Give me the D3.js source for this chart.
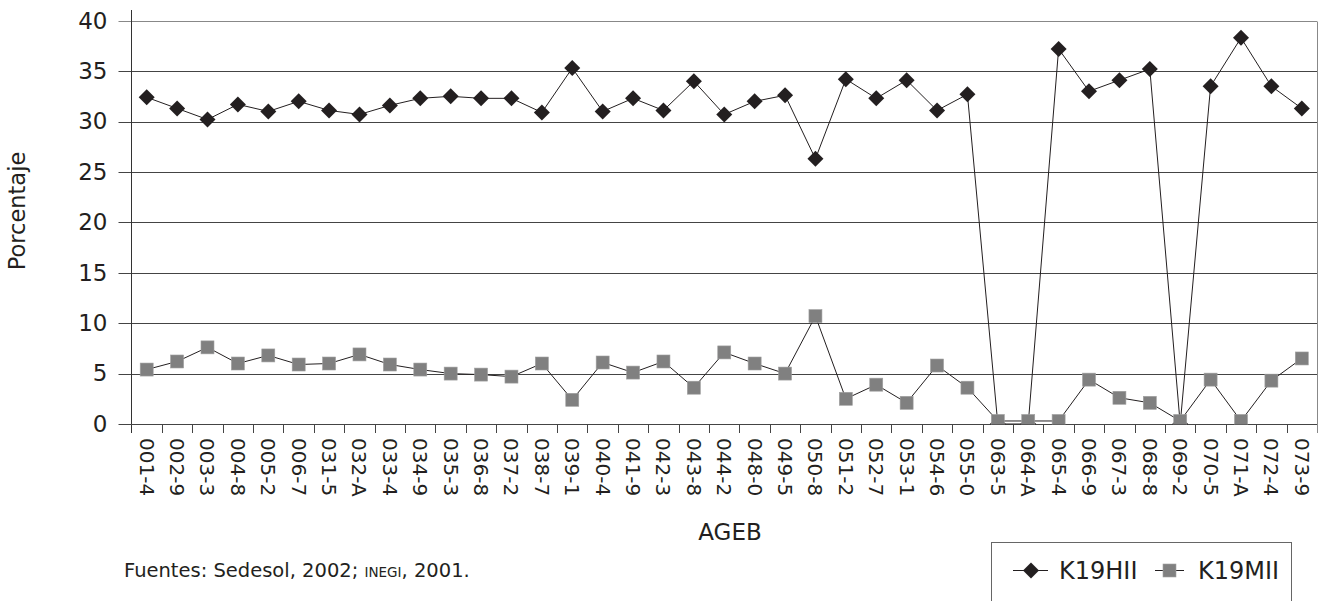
<!DOCTYPE html>
<html><head><meta charset="utf-8">
<script src="https://cdn.jsdelivr.net/npm/d3@7"></script>
<style>body{margin:0;background:#fff}svg{display:block;font-family:"DejaVu Sans",sans-serif}</style>
</head><body><svg id="c" width="1328" height="601"></svg>
<script>
const categories=["001-4","002-9","003-3","004-8","005-2","006-7","031-5","032-A","033-4","034-9","035-3","036-8","037-2","038-7","039-1","040-4","041-9","042-3","043-8","044-2","048-0","049-5","050-8","051-2","052-7","053-1","054-6","055-0","063-5","064-A","065-4","066-9","067-3","068-8","069-2","070-5","071-A","072-4","073-9"];
const k19hii=[32.4,31.3,30.2,31.7,31.0,32.0,31.1,30.7,31.6,32.3,32.5,32.3,32.3,30.9,35.3,31.0,32.3,31.1,34.0,30.7,32.0,32.6,26.3,34.2,32.3,34.1,31.1,32.7,0,0,37.2,33.0,34.1,35.2,0,33.5,38.3,33.5,31.3];
const k19mii=[5.4,6.2,7.6,6.0,6.8,5.9,6.0,6.9,5.9,5.4,5.0,4.9,4.7,6.0,2.4,6.1,5.1,6.2,3.6,7.1,6.0,5.0,10.7,2.5,3.9,2.1,5.8,3.6,0.3,0.3,0.3,4.4,2.6,2.1,0.3,4.4,0.3,4.3,6.5];
const yTicks=[0,5,10,15,20,25,30,35,40];
const seriesNames=["K19HII","K19MII"];

const ink="#231f20";
const svg=d3.select("#c");
const L=131.5,R=1317,T=20.7,B=424;
const x=d3.scaleBand().domain(categories).range([L,R]);
const cx=d=>x(d)+x.bandwidth()/2;
const y=d3.scaleLinear().domain([0,40]).range([B,T]);

// gridlines
svg.append("g").selectAll("line").data(yTicks.filter(v=>v>0)).join("line")
 .attr("x1",L-13).attr("x2",R).attr("y1",d=>Math.round(y(d))+0.5).attr("y2",d=>Math.round(y(d))+0.5)
 .attr("stroke",d=>d===40?"#888":"#444").attr("stroke-width",1);
// right border
svg.append("line").attr("x1",R+0.5).attr("x2",R+0.5).attr("y1",Math.round(T)+0.5).attr("y2",B+9).attr("stroke","#888");

// y axis
const ya=svg.append("g").attr("transform",`translate(${L},0)`)
 .call(d3.axisLeft(y).tickValues(yTicks).tickSize(0).tickPadding(24));
ya.select(".domain").remove();
ya.selectAll("text").attr("font-size",23).attr("fill",ink).attr("font-family","DejaVu Sans");
svg.append("line").attr("x1",L).attr("x2",L).attr("y1",10).attr("y2",B+9).attr("stroke","#333");

// x axis
const xa=svg.append("g").attr("transform",`translate(0,${B})`)
 .call(d3.axisBottom(x).tickSize(0).tickPadding(0));
xa.select(".domain").remove();
xa.selectAll("text").attr("transform","rotate(90)").attr("text-anchor","start")
 .attr("x",14).attr("y",0).attr("dy","0.35em").attr("font-size",20).attr("fill",ink).attr("font-family","DejaVu Sans");
svg.append("line").attr("x1",L-13).attr("x2",R).attr("y1",B+0.5).attr("y2",B+0.5).attr("stroke","#444");
svg.append("g").selectAll("line").data(categories.slice(1)).join("line")
 .attr("x1",d=>Math.round(x(d))+0.5).attr("x2",d=>Math.round(x(d))+0.5).attr("y1",B).attr("y2",B+9).attr("stroke","#444");

// clip
svg.append("clipPath").attr("id","pc").append("rect").attr("x",L).attr("y",0).attr("width",R-L+10).attr("height",B+0.5);

const line=d3.line().x((d,i)=>cx(categories[i])).y(d=>y(d));
const g=svg.append("g").attr("clip-path","url(#pc)");
g.append("path").datum(k19hii).attr("d",line).attr("fill","none").attr("stroke",ink).attr("stroke-width",1);
g.append("path").datum(k19mii).attr("d",line).attr("fill","none").attr("stroke",ink).attr("stroke-width",1);
function dia(cxp,cyp,r){return `M${cxp},${cyp-r}L${cxp+r},${cyp}L${cxp},${cyp+r}L${cxp-r},${cyp}Z`;}
g.append("g").selectAll("path").data(k19hii).join("path")
 .attr("d",(d,i)=>dia(cx(categories[i]),y(d),8)).attr("fill",ink);
g.append("g").selectAll("rect").data(k19mii).join("rect")
 .attr("x",(d,i)=>cx(categories[i])-6.5).attr("y",d=>y(d)-6.5).attr("width",13).attr("height",13)
 .attr("fill","#808080").attr("stroke","#a0a0a0").attr("stroke-width",0.6);

// axis titles
svg.append("text").attr("transform","translate(25,211) rotate(-90)").attr("text-anchor","middle")
 .attr("font-size",22.5).attr("fill",ink).text("Porcentaje");
svg.append("text").attr("x",730).attr("y",540).attr("text-anchor","middle")
 .attr("font-size",23).attr("fill",ink).text("AGEB");

// source
const src=svg.append("text").attr("x",124).attr("y",577).attr("font-size",19.5).attr("fill",ink);
src.append("tspan").text("Fuentes: Sedesol, 2002; ");
src.append("tspan").attr("font-size",13.5).text("INEGI");
src.append("tspan").text(", 2001.");

// legend
const lg=svg.append("g");
lg.append("rect").attr("x",991.5).attr("y",542.5).attr("width",300).attr("height",80).attr("fill","#fff").attr("stroke","#666");
lg.append("line").attr("x1",1013).attr("x2",1048).attr("y1",570.5).attr("y2",570.5).attr("stroke",ink);
lg.append("path").attr("d",dia(1031,570.5,8)).attr("fill",ink);
lg.append("text").attr("x",1059).attr("y",579).attr("font-size",24).attr("fill",ink).text(seriesNames[0]);
lg.append("line").attr("x1",1155).attr("x2",1184).attr("y1",570.5).attr("y2",570.5).attr("stroke",ink);
lg.append("rect").attr("x",1163).attr("y",564).attr("width",13).attr("height",13).attr("fill","#808080").attr("stroke","#a0a0a0").attr("stroke-width",0.6);
lg.append("text").attr("x",1198).attr("y",579).attr("font-size",24).attr("fill",ink).text(seriesNames[1]);
</script></body></html>
